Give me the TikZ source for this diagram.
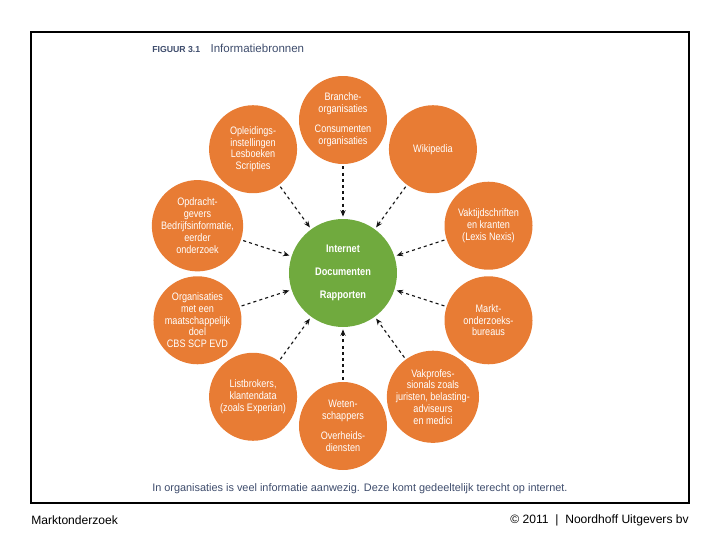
\documentclass[tikz,border=0pt]{standalone}
\usepackage{fontspec}
\setmainfont{Liberation Sans}
\newfontfamily\narrowfont[FakeStretch=0.84]{Liberation Sans}
\usetikzlibrary{arrows.meta,positioning}
\definecolor{pumpkin}{RGB}{232,124,52}
\definecolor{moss}{RGB}{112,170,62}
\definecolor{slate}{RGB}{62,76,108}
\definecolor{ink}{RGB}{20,20,20}
\tikzset{
  >={Stealth[length=1.6mm,width=1.3mm]},
  source/.style={circle,fill=#1,text=white,minimum size=22mm,inner sep=0pt,
    align=center,font=\narrowfont\fontsize{7.7}{8.4}\selectfont},
  source/.default=pumpkin,
  hub/.style={circle,fill=moss,text=white,minimum size=27mm,inner sep=0pt,
    align=center,font=\narrowfont\bfseries\fontsize{7.8}{9}\selectfont},
  feed/.style={->,dashed,thick,draw=ink,dash pattern=on 2.2pt off 2.2pt,
    shorten <=1.5pt,shorten >=1.5pt},
  footer/.style={font=\fontsize{8.6}{10}\selectfont,text=black,inner sep=0pt},
}

\begin{document}
\begin{tikzpicture}
  \useasboundingbox (-8.575,-6.675) rectangle (9.425,6.825);
  \draw[line width=1.4pt] (-7.8,6.025) rectangle (8.65,-5.75);
  % title and caption
  \node[anchor=west,inner sep=0pt,text=slate,font=\fontsize{8.2}{10}\selectfont] (title) at (-4.775,5.625)
    {{\bfseries\fontsize{6.2}{8}\selectfont FIGUUR 3.1}\hspace{0.9em}Informatiebronnen};
  \node[anchor=west,inner sep=0pt,text=slate,font=\fontsize{7.75}{9}\selectfont] (caption) at (-4.775,-5.4)
    {In organisaties is veel informatie aanwezig. Deze komt gedeeltelijk terecht op internet.};
  % hub
  \node[hub] (hub) at (0,0) {Internet\\[7.5pt]Documenten\\[7.5pt]Rapporten};
  % sources round the hub
  \foreach \i/\a/\t in {
    1/90/{Branche-\\organisaties\\[6pt]Consumenten\\organisaties},
    2/54/{Wikipedia},
    3/18/{Vaktijdschriften\\en kranten\\(Lexis Nexis)},
    4/-18/{Markt-\\onderzoeks-\\bureaus},
    5/-54/{Vakprofes-\\sionals zoals\\juristen, belasting-\\adviseurs\\en medici},
    6/-90/{Weten-\\schappers\\[6pt]Overheids-\\diensten},
    7/-126/{Listbrokers,\\klantendata\\(zoals Experian)},
    8/-162/{Organisaties\\met een\\maatschappelijk\\doel\\CBS SCP EVD},
    9/162/{Opdracht-\\gevers\\Bedrijfsinformatie,\\eerder\\onderzoek},
    10/126/{Opleidings-\\instellingen\\Lesboeken\\Scripties}}{
    \node[source] (src\i) at (\a:3.825) {\t};
    \draw[feed] (src\i) -- (hub);
  }
  % footer
  \node[footer,anchor=west] (book) at (-7.8,-6.175) {Marktonderzoek};
  \node[footer,anchor=east] (publisher) at (8.65,-6.175) {\textcopyright\ 2011\ \ |\ \ Noordhoff Uitgevers bv};
\end{tikzpicture}
\end{document}
